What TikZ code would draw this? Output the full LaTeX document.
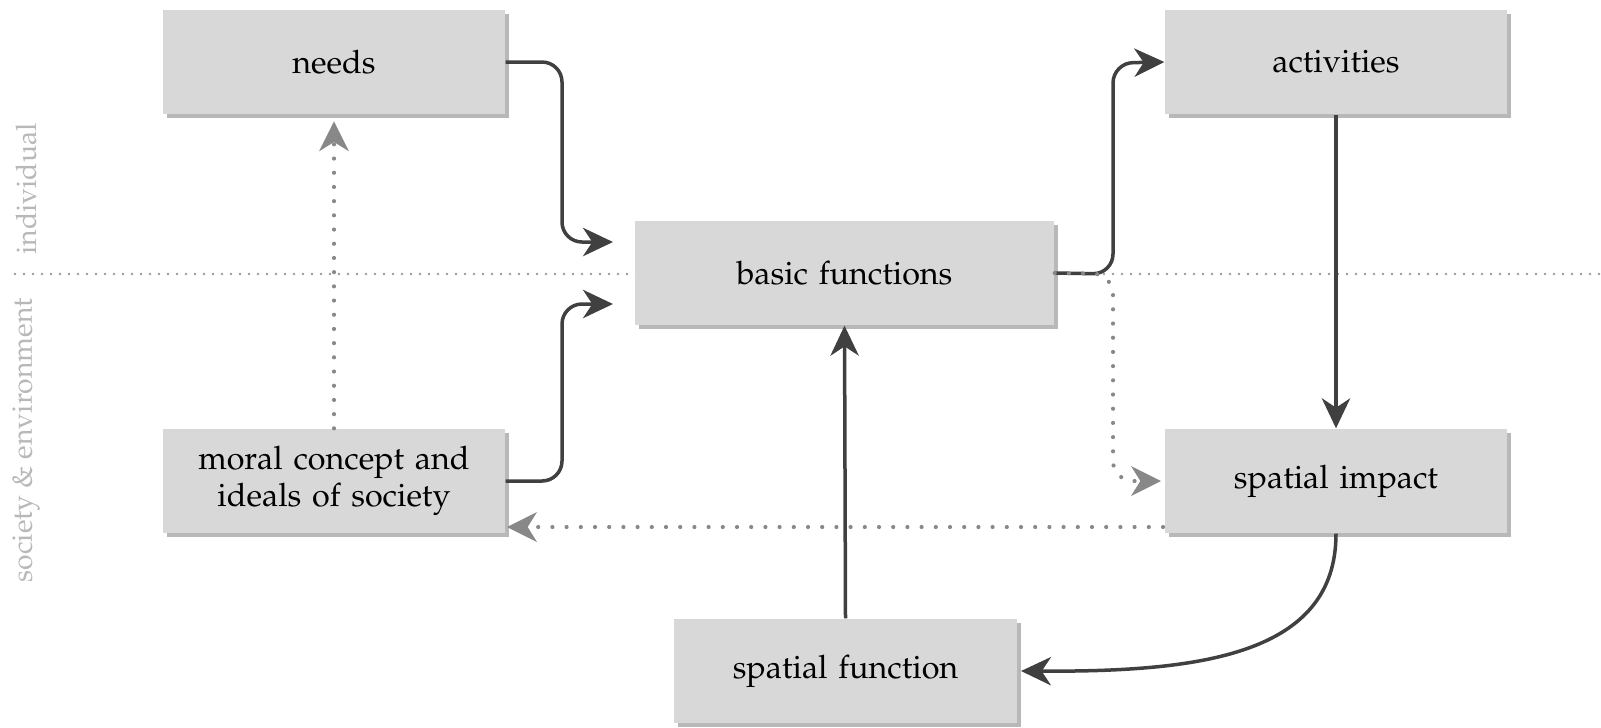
\documentclass[tikz,border=0pt]{standalone}
\usepackage[T1]{fontenc}
\usepackage{mathpazo}
\usetikzlibrary{arrows.meta,shadows}
\definecolor{boxfill}{HTML}{D8D8D8}
\definecolor{arrdark}{HTML}{404040}
\definecolor{dotgray}{HTML}{888888}
\definecolor{sepgray}{HTML}{999999}
\definecolor{labgray}{HTML}{B8B8B8}
\tikzset{
  box/.style={rectangle, fill=boxfill, inner sep=0pt, align=center,
    minimum height=31.2pt, text width=#1, minimum width=#1,
    font=\fontsize{9.7}{11.1}\selectfont,
    drop shadow={shadow xshift=1.1pt, shadow yshift=-1.1pt, fill=black, opacity=0.28}},
  box/.default=102.6pt,
  darktip/.style={-{Stealth[length=9pt, width=8.5pt, inset=2.8pt]}},
  arr/.style={draw=arrdark, line width=1.05pt, rounded corners=6pt, darktip},
  sepline/.style={draw=sepgray, line width=0.8pt, line cap=round,
    dash pattern=on 0pt off 2.7pt},
  dotline/.style={draw=dotgray, line width=1.25pt, line cap=round,
    dash pattern=on 0pt off 4.26pt},
  dotarr/.style={dotline, rounded corners=6pt,
    -{Stealth[length=9pt, width=9pt, inset=2.8pt, fill=dotgray, line width=0pt, sep=0pt]}},
  sidelab/.style={rotate=90, text=labgray, font=\fontsize{8.5}{10}\selectfont}
}
\begin{document}
\begin{tikzpicture}[x=0.3pt,y=-0.3pt]
\useasboundingbox (0,0) rectangle (1601,727);
% separator line
\coordinate (sepL) at (15,274);
\coordinate (sepR) at (1601,274);
\draw[sepline] (sepL) -- (sepR);
% side labels
\node[sidelab] (lind) at (26,189) {individual};
\node[sidelab] (lsoc) at (26,440) {society \& environment};
% boxes
\node[box] (needs) at (334,62) {needs};
\node[box=125.7pt] (basic) at (844.5,273) {basic functions};
\node[box] (act) at (1336,62) {activities};
\node[box] (moral) at (334,481) {moral concept and\\ideals of society};
\node[box] (impact) at (1336,481) {spatial impact};
\node[box=102.9pt] (sfunc) at (845.5,671) {spatial function};
% helper coordinates
\coordinate (t1) at (613,242);
\coordinate (t2) at (613,304);
\coordinate (impL) at (1163,527);
\coordinate (morR) at (507,527);
% solid arrows
\draw[arr] (needs.east) -- (562,62) -- (562,242) -- (t1);
\draw[arr] (moral.east) -- (562,481) -- (562,304) -- (t2);
\draw[arr] (basic.east) -- (1113,274) -- (1113,63) -- (act.west);
\draw[arr] (act.south) -- (impact.north);
\draw[draw=arrdark, line width=1.05pt, darktip]
  (impact.south) .. controls (1336,655) and (1200,672) .. ([xshift=1pt]sfunc.east);
\draw[arr] (sfunc.north) -- (basic.south);
% dotted arrows
\draw[dotarr, shorten >=1pt] (moral.north) -- ([yshift=-1pt]needs.south);
\draw[dotarr] (basic.east) -- (1113,274) -- (1113,481) -- ([xshift=-1pt]impact.west);
\draw[dotarr] (impL) -- (morR);
\end{tikzpicture}
\end{document}
